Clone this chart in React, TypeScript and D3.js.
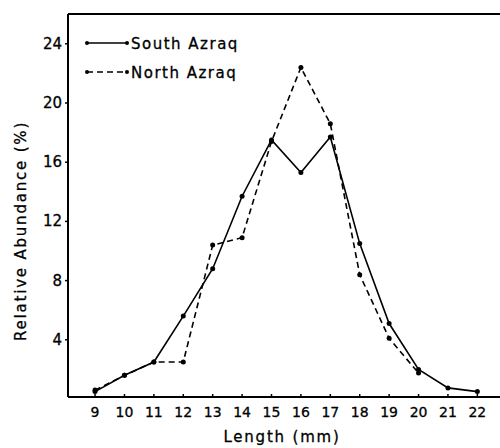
import React, { useRef, useEffect } from 'react';
import * as d3 from 'd3';

// lengths (mm) and relative abundance (%)
const southLengths = [9, 10, 11, 12, 13, 14, 15, 16, 17, 18, 19, 20, 21, 22];
const southValues = [0.5, 1.6, 2.5, 5.6, 8.8, 13.7, 17.5, 15.3, 17.7, 10.5, 5.1, 2.0, 0.75, 0.5];
const northLengths = [9, 10, 11, 12, 13, 14, 15, 16, 17, 18, 19, 20];
const northValues = [0.6, 1.6, 2.5, 2.5, 10.4, 10.9, 17.4, 22.4, 18.6, 8.4, 4.1, 1.75];
const xTicks = [9, 10, 11, 12, 13, 14, 15, 16, 17, 18, 19, 20, 21, 22];
const yTicks = [4, 8, 12, 16, 20, 24];

const App = () => {
  const svgRef = useRef<SVGSVGElement>(null);

  useEffect(() => {
    const svg = d3.select(svgRef.current);
    svg.selectAll('*').remove();

    const left = 68, top = 14, right = 500, bottom = 397;

    const x = d3.scaleLinear().domain([8.08, 22.77]).range([left, right]);
    const y = d3.scaleLinear().domain([0, 1]).range([399, 399 - 14.8]);

    const font = 'DejaVu Sans, sans-serif';

    // frame
    svg.append('line').attr('x1', left).attr('x2', left).attr('y1', top).attr('y2', bottom)
      .attr('stroke', '#000').attr('stroke-width', 2);
    svg.append('line').attr('x1', left).attr('x2', right).attr('y1', top).attr('y2', top)
      .attr('stroke', '#000').attr('stroke-width', 2);
    svg.append('line').attr('x1', left).attr('x2', right).attr('y1', bottom).attr('y2', bottom)
      .attr('stroke', '#000').attr('stroke-width', 2);

    // x ticks
    const gx = svg.append('g');
    xTicks.forEach((t) => {
      gx.append('line').attr('x1', x(t)).attr('x2', x(t)).attr('y1', bottom).attr('y2', bottom - 3)
        .attr('stroke', '#000').attr('stroke-width', 1.5);
      gx.append('text').attr('x', x(t)).attr('y', bottom + 20).attr('text-anchor', 'middle')
        .attr('font-family', font).attr('font-size', 14).attr('stroke', '#000').attr('stroke-width', 0.3)
        .text(t);
    });

    // y ticks
    const gy = svg.append('g');
    yTicks.forEach((t) => {
      gy.append('line').attr('x1', left).attr('x2', left - 3).attr('y1', y(t)).attr('y2', y(t))
        .attr('stroke', '#000').attr('stroke-width', 1.5);
      gy.append('text').attr('x', left - 6).attr('y', y(t) + 5).attr('text-anchor', 'end')
        .attr('font-family', font).attr('font-size', 15).attr('stroke', '#000').attr('stroke-width', 0.3)
        .text(t);
    });

    // axis titles
    svg.append('text').attr('x', 282).attr('y', 442).attr('text-anchor', 'middle')
      .attr('font-family', font).attr('font-size', 15).attr('letter-spacing', 1.8)
      .attr('stroke', '#000').attr('stroke-width', 0.3)
      .text('Length (mm)');
    svg.append('text').attr('transform', 'translate(26,231) rotate(-90)').attr('text-anchor', 'middle')
      .attr('font-family', font).attr('font-size', 15).attr('letter-spacing', 1.8)
      .attr('stroke', '#000').attr('stroke-width', 0.3)
      .text('Relative Abundance (%)');

    const line = d3.line<[number, number]>().x((d) => x(d[0])).y((d) => y(d[1]));

    const south: [number, number][] = southLengths.map((l, i) => [l, southValues[i]]);
    const north: [number, number][] = northLengths.map((l, i) => [l, northValues[i]]);

    svg.append('path').attr('d', line(north)).attr('fill', 'none').attr('stroke', '#000')
      .attr('stroke-width', 1.6).attr('stroke-dasharray', '6,4');
    svg.append('path').attr('d', line(south)).attr('fill', 'none').attr('stroke', '#000')
      .attr('stroke-width', 1.6);

    [north, south].forEach((s) => {
      svg.append('g').selectAll('circle').data(s).enter().append('circle')
        .attr('cx', (d) => x(d[0])).attr('cy', (d) => y(d[1])).attr('r', 2.5).attr('fill', '#000');
    });

    // legend
    const legend = [
      { label: 'South Azraq', dash: null, yy: 43 },
      { label: 'North Azraq', dash: '6,4', yy: 72 },
    ];
    legend.forEach((l) => {
      svg.append('line').attr('x1', 87).attr('x2', 127).attr('y1', l.yy).attr('y2', l.yy)
        .attr('stroke', '#000').attr('stroke-width', 1.6).attr('stroke-dasharray', l.dash);
      svg.append('circle').attr('cx', 87).attr('cy', l.yy).attr('r', 2).attr('fill', '#000');
      svg.append('circle').attr('cx', 127).attr('cy', l.yy).attr('r', 2).attr('fill', '#000');
      svg.append('text').attr('x', 131).attr('y', l.yy + 6).attr('font-family', font)
        .attr('font-size', 15).attr('letter-spacing', 1.5)
        .attr('stroke', '#000').attr('stroke-width', 0.3).text(l.label);
    });
  }, []);

  return (
    <svg ref={svgRef} width={500} height={448}
      style={{ position: 'absolute', left: 0, top: 0, background: '#fff' }} />
  );
};

export default App;
